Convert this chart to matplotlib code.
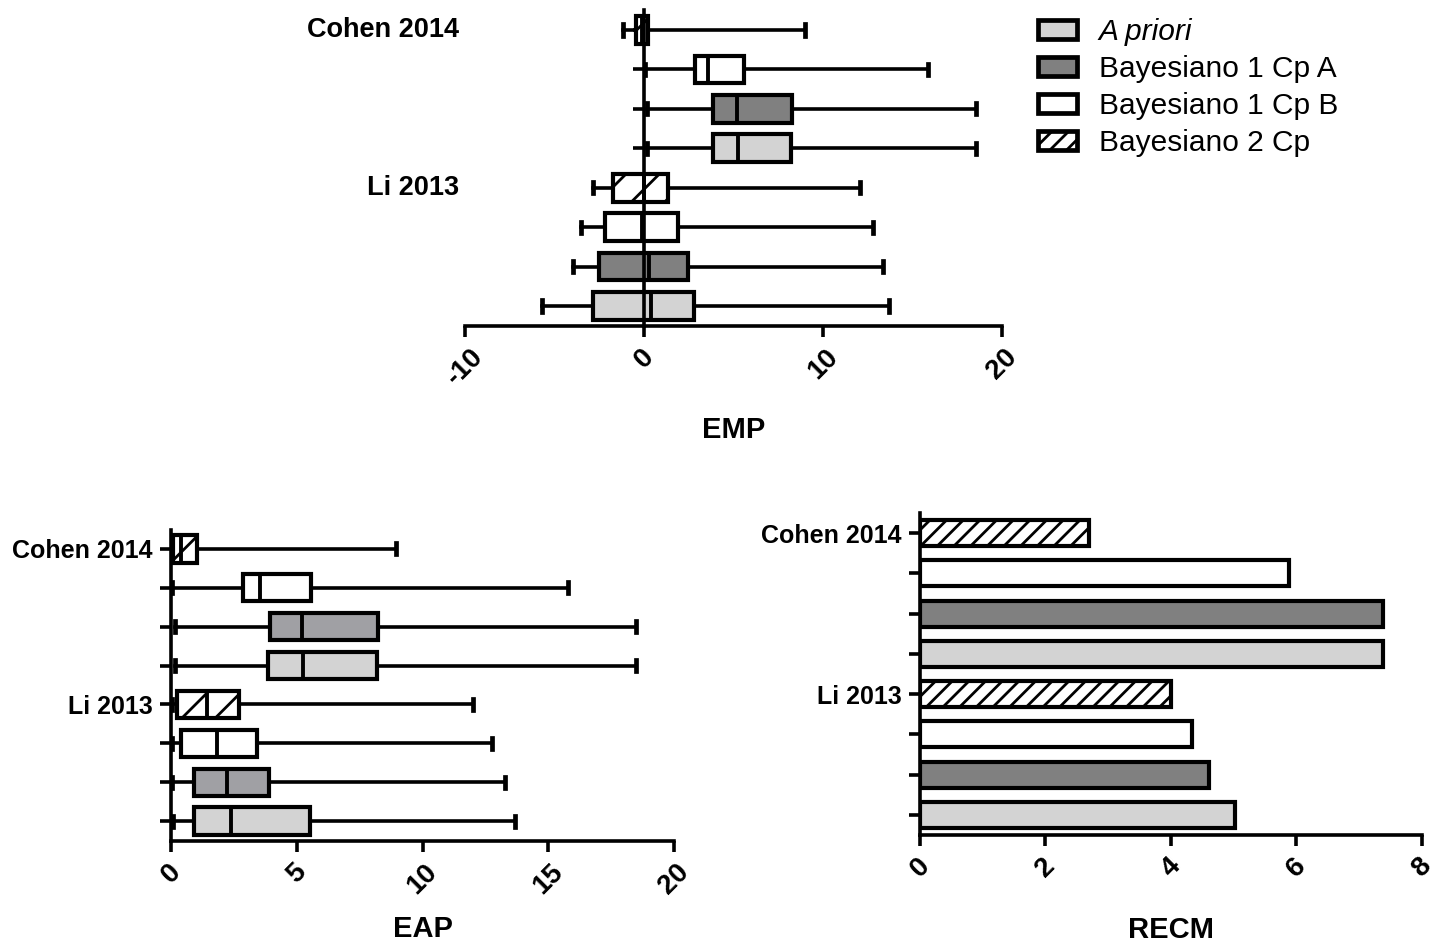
import matplotlib

matplotlib.use("Agg")
import matplotlib.pyplot as plt
from matplotlib.patches import Patch

plt.rcParams["font.family"] = ["Liberation Sans", "DejaVu Sans"]
plt.rcParams["font.weight"] = "bold"
plt.rcParams["axes.unicode_minus"] = False
plt.rcParams["hatch.linewidth"] = 2.0

# rows are listed bottom -> top: Li 2013 (1-4), Cohen 2014 (5-8)
POSITIONS = [1, 2, 3, 4, 5, 6, 7, 8]
ROW_LABELS = ["", "", "", "Li 2013", "", "", "", "Cohen 2014"]
METHODS = ["A priori", "Bayesiano 1 Cp A", "Bayesiano 1 Cp B", "Bayesiano 2 Cp"]

# EMP: mean prediction error
emp_q1 = [-2.85, -2.50, -2.18, -1.73, 3.87, 3.87, 2.85, -0.45]
emp_med = [0.37, 0.30, -0.10, 0.00, 5.25, 5.20, 3.58, -0.10]
emp_q3 = [2.80, 2.47, 1.92, 1.34, 8.20, 8.25, 5.60, 0.20]
emp_lo = [-5.70, -3.97, -3.50, -2.85, 0.15, 0.15, 0.05, -1.17]
emp_hi = [13.70, 13.35, 12.80, 12.07, 18.55, 18.55, 15.85, 9.00]

# EAP: absolute prediction error
eap_q1 = [0.92, 0.92, 0.39, 0.22, 3.86, 3.94, 2.86, 0.08]
eap_med = [2.38, 2.22, 1.82, 1.45, 5.24, 5.20, 3.54, 0.40]
eap_q3 = [5.53, 3.90, 3.40, 2.70, 8.20, 8.23, 5.57, 1.03]
eap_lo = [0.07, 0.02, 0.02, 0.02, 0.16, 0.16, 0.02, 0.02]
eap_hi = [13.68, 13.27, 12.77, 12.00, 18.50, 18.50, 15.80, 8.94]

# RECM: root mean squared error
recm = [5.02, 4.60, 4.33, 4.00, 7.38, 7.38, 5.88, 2.70]

FILLS = ["#d3d3d3", "#808080", "white", "white"]
FILLS_EAP = ["#d3d3d3", "#a0a0a4", "white", "white"]
BOX_HATCHES = [None, None, None, "/"]
BAR_HATCHES = [None, None, None, "//"]

LW = 2.6
W, H = 1435, 941


def axes_rect(left, right, top, bottom):
    return [left / W, 1 - bottom / H, (right - left) / W, (bottom - top) / H]


def style_axes(ax):
    for side in ("top", "right"):
        ax.spines[side].set_visible(False)
    for side in ("left", "bottom"):
        ax.spines[side].set_linewidth(LW)
    ax.tick_params(width=LW, length=8, labelsize=20, pad=5)
    ax.set_ylim(0.5, 8.5)
    ax.set_yticks(POSITIONS)


def draw_boxes(ax, q1, med, q3, lo, hi, fills):
    stats = [
        {"q1": a, "med": m, "q3": b, "whislo": l, "whishi": h, "fliers": []}
        for a, m, b, l, h in zip(q1, med, q3, lo, hi)
    ]
    result = ax.bxp(
        stats,
        positions=POSITIONS,
        widths=0.7,
        orientation="horizontal",
        patch_artist=True,
        showfliers=False,
        manage_ticks=False,
        capwidths=0.28,
        boxprops={"edgecolor": "black", "linewidth": 3.0},
        whiskerprops={"color": "black", "linewidth": 2.6},
        capprops={"color": "black", "linewidth": 3.4},
        medianprops={"color": "black", "linewidth": 2.8},
    )
    for i, box in enumerate(result["boxes"]):
        k = i % 4
        box.set_facecolor(fills[k])
        if BOX_HATCHES[k]:
            box.set_hatch(BOX_HATCHES[k])


def rotate_xticks(ax):
    for label in ax.get_xticklabels():
        label.set_rotation(45)
        label.set_fontweight("bold")


fig = plt.figure(figsize=(W / 100, H / 100), dpi=100)

# top: EMP
ax_emp = fig.add_axes(axes_rect(465, 1002, 10.3, 325.7))
draw_boxes(ax_emp, emp_q1, emp_med, emp_q3, emp_lo, emp_hi, FILLS)
style_axes(ax_emp)
ax_emp.set_xlim(-10, 20)
ax_emp.set_xticks([-10, 0, 10, 20])
ax_emp.spines["left"].set_position(("data", 0))
ax_emp.tick_params(axis="y", labelleft=False)
for pos, text in zip(POSITIONS, ROW_LABELS):
    if text:
        ax_emp.annotate(text, xy=(0, pos), xycoords=("axes fraction", "data"),
                        xytext=(-4, 0), textcoords="offset points",
                        ha="right", va="center", fontsize=19.5, fontweight="bold")
rotate_xticks(ax_emp)
ax_emp.set_xlabel("EMP", fontsize=21, fontweight="bold")
ax_emp.xaxis.set_label_coords(0.5, -0.285)

# bottom left: EAP
ax_eap = fig.add_axes(axes_rect(171, 674, 529.5, 840.5))
draw_boxes(ax_eap, eap_q1, eap_med, eap_q3, eap_lo, eap_hi, FILLS_EAP)
style_axes(ax_eap)
ax_eap.set_xlim(0, 20)
ax_eap.set_xticks([0, 5, 10, 15, 20])
ax_eap.set_yticklabels(ROW_LABELS, fontsize=18, fontweight="bold")
rotate_xticks(ax_eap)
ax_eap.set_xlabel("EAP", fontsize=21, fontweight="bold")
ax_eap.xaxis.set_label_coords(0.5, -0.24)

# bottom right: RECM
ax_recm = fig.add_axes(axes_rect(920, 1422, 513, 835))
for i, (pos, val) in enumerate(zip(POSITIONS, recm)):
    k = i % 4
    ax_recm.barh(pos, val, height=0.65, color=FILLS[k], edgecolor="black",
                 linewidth=3.0, hatch=BAR_HATCHES[k])
style_axes(ax_recm)
ax_recm.set_xlim(0, 8)
ax_recm.set_xticks([0, 2, 4, 6, 8])
ax_recm.set_yticklabels(ROW_LABELS, fontsize=18, fontweight="bold")
rotate_xticks(ax_recm)
ax_recm.set_xlabel("RECM", fontsize=21, fontweight="bold")
ax_recm.xaxis.set_label_coords(0.5, -0.25)

# shared legend
handles = [
    Patch(facecolor=FILLS[k], edgecolor="black", linewidth=3.4, hatch=BAR_HATCHES[k])
    for k in range(4)
]
legend = fig.legend(
    handles, METHODS, loc="upper left", bbox_to_anchor=(1038 / W, 1 - 18 / H),
    frameon=False, prop={"size": 21.5, "weight": "normal"},
    handlelength=1.3, handleheight=0.6, handletextpad=0.74,
    labelspacing=0.3, borderpad=0, borderaxespad=0,
)
legend.get_texts()[0].set_style("italic")

fig.savefig("out.png", dpi=100)
